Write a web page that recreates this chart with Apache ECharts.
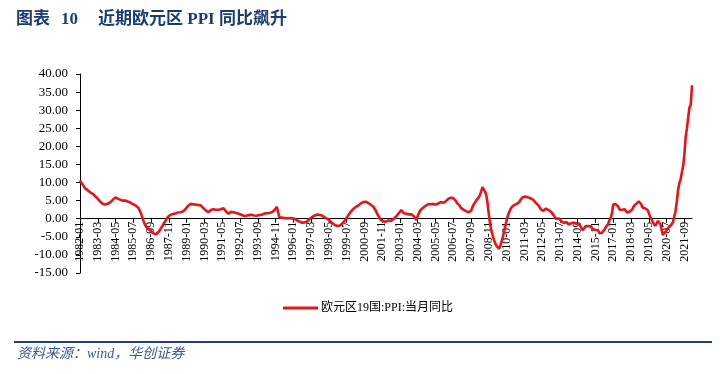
<!DOCTYPE html>
<html>
<head>
<meta charset="utf-8">
<script src="https://cdn.jsdelivr.net/npm/echarts@6/dist/echarts.min.js"></script>
<style>
html,body{margin:0;padding:0;background:#fff;}
#chart{width:727px;height:374px;}
</style>
</head>
<body>
<div id="chart"></div>
<script>
// Monthly data, euro area (19) PPI YoY %, starting 1982-01
var startYear = 1982;
var ppi1980s = [
  10.6, 10.1, 9.5, 9.0, 8.4, 8.1, 7.9, 7.6, 7.3, 7.1, 6.9, 6.6,
  6.2, 5.8, 5.5, 5.1, 4.7, 4.4, 4.1, 4.0, 3.9, 4.0, 4.2, 4.3,
  4.6, 5.0, 5.3, 5.7, 5.9, 5.7, 5.5, 5.4, 5.2, 5.3, 5.0, 5.1,
  5.0, 4.9, 4.7, 4.6, 4.4, 4.3, 4.0, 3.8, 3.6, 3.3, 3.0, 2.5,
  1.5, 0.4, -0.6, -1.5, -2.2, -2.6, -2.9, -3.1, -3.4, -3.8, -4.1, -4.4,
  -4.3, -4.0, -3.6, -3.1, -2.5, -1.9, -1.3, -0.8, -0.2, 0.4, 0.8, 1.0,
  1.1, 1.3, 1.3, 1.4, 1.6, 1.7, 1.7, 1.8, 1.9, 2.0, 2.2, 2.6,
  3.0, 3.5, 3.9, 4.1, 4.1, 4.0, 3.9, 3.9, 4.0, 3.8, 3.9, 3.7
];
var ppi1990s = [
  3.3, 3.0, 2.6, 2.3, 2.0, 1.8, 2.0, 2.4, 2.8, 2.6, 2.7, 2.5,
  2.7, 2.5, 2.6, 2.6, 2.7, 2.9, 2.4, 2.0, 1.6, 1.4, 1.7, 1.9,
  1.9, 1.8, 1.7, 1.6, 1.5, 1.4, 1.2, 1.1, 0.9, 0.8, 0.7, 0.8,
  0.9, 1.0, 1.1, 1.1, 1.0, 0.9, 0.9, 0.8, 0.9, 1.0, 1.0, 1.1,
  1.2, 1.4, 1.4, 1.5, 1.5, 1.6, 1.7, 1.8, 2.0, 2.3, 2.8, 3.3,
  3.7, 0.4, 0.4, 0.3, 0.3, 0.2, 0.2, 0.1, 0.1, 0.2, 0.0, 0.1,
  0.3, 0.0, -0.3, -0.5, -0.6, -0.8, -0.9, -1.1, -1.0, -1.0, -0.9, -0.7,
  -0.4, 0.0, 0.3, 0.5, 0.7, 0.9, 1.1, 1.2, 1.2, 1.0, 0.9, 0.8,
  0.5, 0.3, 0.1, -0.1, -0.4, -0.7, -1.0, -1.3, -1.6, -1.8, -1.9, -2.0,
  -2.0, -1.8, -1.5, -1.2, -0.8, -0.3, 0.2, 0.8, 1.3, 1.8, 2.2, 2.6
];
var ppi2000s = [
  3.0, 3.2, 3.4, 3.6, 3.9, 4.2, 4.4, 4.6, 4.9, 4.7, 4.5, 4.3,
  4.1, 3.9, 3.7, 3.3, 2.8, 2.2, 1.4, 0.8, 0.2, -0.4, -0.6, -0.7,
  -0.7, -0.8, -0.7, -0.5, -0.7, -0.6, -0.3, 0.0, 0.3, 0.6, 1.0, 1.5,
  2.0, 2.4, 2.0, 1.5, 1.3, 1.4, 1.3, 1.2, 1.1, 1.2, 0.9, 0.7,
  0.2, -0.4, 0.8, 1.6, 2.3, 2.6, 3.0, 3.3, 3.5, 3.8, 4.0, 3.7,
  4.0, 4.3, 4.1, 4.3, 3.9, 4.0, 4.2, 4.3, 4.6, 4.2, 4.4, 4.4,
  4.8, 5.2, 5.5, 5.7, 5.8, 5.6, 5.7, 5.5, 4.9, 4.3, 4.0, 3.6,
  3.0, 2.7, 2.5, 2.3, 2.1, 1.9, 1.8, 1.7, 2.2, 3.1, 3.9, 4.3,
  5.0, 5.4, 5.9, 6.5, 7.6, 8.7, 8.4, 7.5, 6.6, 4.2, 1.2, -1.5,
  -3.3, -4.6, -5.8, -6.8, -7.5, -8.0, -8.3, -7.5, -6.3, -5.0, -3.7, -2.0
];
var ppi2010s = [
  -0.5, 0.9, 1.8, 2.6, 3.2, 3.3, 3.8, 3.9, 4.1, 4.4, 4.6, 5.3,
  5.7, 6.0, 6.3, 6.1, 6.0, 5.9, 5.8, 5.6, 5.4, 5.2, 4.9, 4.4,
  3.9, 3.7, 3.2, 2.6, 2.3, 2.2, 2.5, 2.8, 2.7, 2.4, 2.0, 1.9,
  1.4, 1.0, 0.5, -0.1, -0.2, 0.1, -0.1, -0.6, -0.9, -1.2, -1.1, -0.9,
  -1.3, -1.6, -1.6, -1.2, -1.0, -1.1, -1.3, -1.4, -1.3, -1.4, -1.8, -2.6,
  -3.2, -2.7, -2.1, -1.9, -2.0, -2.1, -2.1, -2.5, -2.9, -3.0, -3.1, -3.0,
  -3.2, -4.0, -4.0, -3.9, -3.6, -3.0, -2.4, -1.9, -1.4, -0.4, 0.2, 1.6,
  4.0, 4.5, 4.0, 4.2, 3.3, 2.5, 2.1, 2.5, 2.8, 2.6, 2.5, 1.7,
  1.8, 2.0, 2.3, 2.6, 3.4, 3.8, 4.1, 4.3, 4.8, 5.0, 4.0, 3.1,
  3.0, 2.9, 2.8, 2.4, 1.6, 0.6, 0.0, -0.8, -1.4, -2.0, -1.4, -0.6
];
var ppi2020s = [
  -0.6, -1.4, -2.9, -4.5, -4.9, -3.7, -3.2, -2.6, -2.3, -2.0, -1.9, -1.0,
  0.6, 2.0, 4.6, 7.8, 9.8, 10.8, 12.8, 14.5, 17.8, 22.5, 25.0, 28.0,
  30.8, 31.4, 36.9
];
var seriesName = '欧元区19国:PPI:当月同比';
var yTicks = { min: -15, max: 40, step: 5 };

var values = [].concat(ppi1980s, ppi1990s, ppi2000s, ppi2010s, ppi2020s);
var months = [];
for (var i = 0; i < values.length; i++) {
  var y = startYear + Math.floor(i / 12);
  var m = (i % 12) + 1;
  months.push(y + '-' + (m < 10 ? '0' + m : '' + m));
}

var gridTop = 74, gridBottom = 101, H = 374;
var plotH = H - gridTop - gridBottom;
// move the category axis up to the zero line of the value axis
var zeroOffset = -plotH * (0 - yTicks.min) / (yTicks.max - yTicks.min);

var serif = "'Times New Roman','Liberation Serif','Noto Sans CJK SC',serif";
var chart = echarts.init(document.getElementById('chart'), null, { renderer: 'canvas' });
chart.setOption({
  backgroundColor: '#fff',
  animation: false,
  grid: { left: 80, right: 35, top: gridTop, bottom: gridBottom, containLabel: false },
  legend: {
    left: 278, top: 297,
    icon: 'rect', itemWidth: 35, itemHeight: 3, itemGap: 10,
    textStyle: { fontFamily: serif, fontSize: 12, color: '#000', padding: [0, 0, 0, -2] },
    data: [seriesName]
  },
  xAxis: {
    type: 'category',
    data: months,
    boundaryGap: false,
    position: 'bottom',
    offset: zeroOffset,
    axisLine: { onZero: false, lineStyle: { color: '#000', width: 1 } },
    axisTick: { show: true, interval: 13, length: 4, inside: false, lineStyle: { color: '#000' } },
    axisLabel: {
      interval: 13, rotate: 90, margin: 3,
      fontFamily: serif, fontSize: 12, color: '#000'
    },
    splitLine: { show: false }
  },
  yAxis: {
    type: 'value',
    min: yTicks.min, max: yTicks.max, interval: yTicks.step,
    axisLine: { show: true, lineStyle: { color: '#000', width: 1 } },
    axisTick: { show: true, length: 4, lineStyle: { color: '#000' } },
    axisLabel: {
      margin: 12, fontFamily: serif, fontSize: 13, color: '#000',
      formatter: function (v) { return v.toFixed(2); }
    },
    splitLine: { show: false }
  },
  series: [{
    name: seriesName,
    type: 'line',
    data: values,
    symbol: 'none',
    lineStyle: { color: '#e8141b', width: 2.6 },
    itemStyle: { color: '#e8141b' }
  }],
  graphic: [
    { type: 'text', left: 16, top: 11, style: { text: '图表', fontFamily: serif, fontSize: 17, fontWeight: 'bold', fill: '#1a3c70' } },
    { type: 'text', left: 61, top: 11, style: { text: '10', fontFamily: serif, fontSize: 17, fontWeight: 'bold', fill: '#1a3c70' } },
    { type: 'text', left: 98, top: 11, style: { text: '近期欧元区 PPI 同比飙升', fontFamily: serif, fontSize: 17, fontWeight: 'bold', fill: '#1a3c70' } },
    { type: 'rect', shape: { x: 14, y: 341, width: 698, height: 2 }, style: { fill: '#1f3f7f' } },
    { type: 'text', left: 17, top: 347, style: { text: '资料来源：wind，华创证券', fontFamily: serif, fontSize: 14, fontStyle: 'italic', fill: '#3a5a8c' } }
  ]
});
</script>
</body>
</html>
